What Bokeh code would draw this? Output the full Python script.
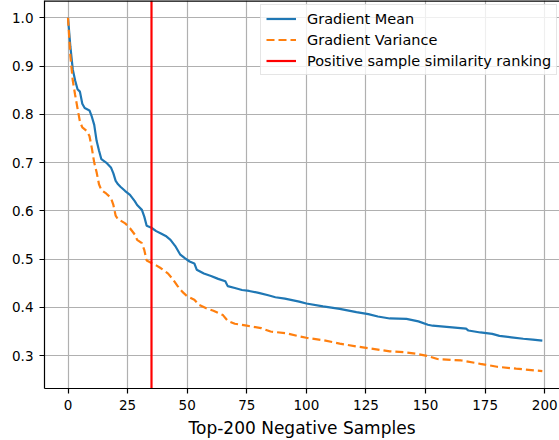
from bokeh.plotting import figure
from bokeh.models import FixedTicker, PrintfTickFormatter, Range1d, Span
from bokeh.embed import file_html
from bokeh.resources import INLINE

# ---- data ----
mean_x = [0, 1, 2, 3, 4, 5, 6, 7, 9, 10, 11, 12, 13, 14, 16, 18, 19, 20, 21, 22, 24, 26, 28, 29,
          31, 32, 33, 35, 37, 39, 41, 43, 45, 47, 49, 51, 53, 54, 57, 60, 63, 66, 67, 70, 73, 76,
          80, 84, 87, 91, 97, 100, 107, 114, 121, 126, 130, 135, 142, 147, 151, 153, 160, 167,
          168, 173, 178, 181, 186, 191, 195, 199]
mean_y = [1.000, 0.940, 0.893, 0.870, 0.852, 0.847, 0.822, 0.813, 0.808, 0.795, 0.778, 0.745,
          0.725, 0.707, 0.700, 0.690, 0.678, 0.662, 0.655, 0.650, 0.641, 0.633, 0.620, 0.612,
          0.602, 0.588, 0.569, 0.565, 0.558, 0.553, 0.548, 0.540, 0.527, 0.510, 0.502, 0.495,
          0.491, 0.478, 0.470, 0.465, 0.459, 0.454, 0.444, 0.440, 0.436, 0.434, 0.430, 0.425,
          0.421, 0.418, 0.412, 0.408, 0.402, 0.397, 0.390, 0.386, 0.381, 0.377, 0.376, 0.371,
          0.364, 0.362, 0.359, 0.356, 0.352, 0.348, 0.345, 0.341, 0.338, 0.335, 0.333, 0.331]

var_x = [0, 1, 2, 3, 4, 5, 6, 8, 9, 10, 11, 12, 13, 14, 16, 18, 19, 20, 21, 22, 24, 26, 28, 29,
         31, 32, 33, 35, 37, 39, 42, 44, 46, 48, 50, 53, 55, 58, 61, 65, 67, 70, 75, 81, 85, 92,
         97, 100, 107, 114, 121, 128, 135, 141, 146, 151, 155, 165, 173, 180, 188, 199]
var_y = [1.000, 0.920, 0.870, 0.840, 0.812, 0.785, 0.773, 0.765, 0.755, 0.730, 0.700, 0.680,
         0.655, 0.643, 0.636, 0.627, 0.613, 0.590, 0.582, 0.580, 0.574, 0.564, 0.551, 0.540,
         0.533, 0.519, 0.497, 0.492, 0.487, 0.481, 0.470, 0.458, 0.444, 0.432, 0.423, 0.416,
         0.405, 0.398, 0.393, 0.384, 0.372, 0.366, 0.362, 0.357, 0.350, 0.346, 0.340, 0.337,
         0.332, 0.325, 0.319, 0.314, 0.309, 0.307, 0.304, 0.299, 0.293, 0.290, 0.283, 0.277,
         0.273, 0.268]

positive_rank = 35

x_ticks = [0, 25, 50, 75, 100, 125, 150, 175, 200]
y_ticks = [0.3, 0.4, 0.5, 0.6, 0.7, 0.8, 0.9, 1.0]

FONT = "DejaVu Sans"
Y_TOP = 1.0358

p = figure(width=559, height=440, output_backend="svg", toolbar_location=None,
           x_range=Range1d(-9.86, 206.2), y_range=Range1d(0.2319, Y_TOP),
           min_border_left=44, min_border_right=0, min_border_top=0, min_border_bottom=51)

p.line(mean_x, mean_y, line_color="#1f77b4", line_width=2.2, legend_label="Gradient Mean")
p.line(var_x, var_y, line_color="#ff7f0e", line_width=2.2, line_dash="8 4",
       legend_label="Gradient Variance")
p.vspan(x=[positive_rank], line_color="#ff0000", line_width=2.2,
        legend_label="Positive sample similarity ranking")

# top spine (right spine lies outside the visible area in the reference)
p.add_layout(Span(location=Y_TOP, dimension="width", line_color="black", line_width=2.4))

p.outline_line_color = None
p.background_fill_color = "white"
p.border_fill_color = "white"

for ax in (p.xaxis, p.yaxis):
    ax.axis_line_color = "black"
    ax.axis_line_width = 1.2
    ax.major_tick_line_color = "black"
    ax.major_tick_line_width = 1.2
    ax.major_tick_out = 5
    ax.major_tick_in = 0
    ax.minor_tick_line_color = None
    ax.major_label_text_font = FONT
    ax.major_label_text_font_size = "13.5px"
    ax.major_label_text_color = "black"
    ax.major_label_standoff = 6

p.xaxis.ticker = FixedTicker(ticks=x_ticks)
p.yaxis.ticker = FixedTicker(ticks=y_ticks)
p.yaxis.formatter = PrintfTickFormatter(format="%.1f")
p.xaxis.axis_label = "Top-200 Negative Samples"
p.xaxis.axis_label_text_font = FONT
p.xaxis.axis_label_text_font_size = "17px"
p.xaxis.axis_label_text_font_style = "normal"
p.xaxis.axis_label_text_color = "black"
p.xaxis.axis_label_standoff = 5

p.xgrid.ticker = FixedTicker(ticks=x_ticks)
p.ygrid.ticker = FixedTicker(ticks=y_ticks)
for g in (p.xgrid, p.ygrid):
    g.grid_line_color = "#b0b0b0"
    g.grid_line_width = 1.2

lg = p.legend[0]
lg.location = (216, 313)
lg.margin = 0
lg.padding = 5
lg.spacing = 4
lg.glyph_width = 30
lg.glyph_height = 17
lg.label_standoff = 11
lg.label_text_font = FONT
lg.label_text_font_size = "14.5px"
lg.label_text_color = "black"
lg.border_line_color = "#cccccc"
lg.border_line_width = 1
lg.background_fill_alpha = 0.8

open("out.html", "w").write(file_html(p, INLINE))
